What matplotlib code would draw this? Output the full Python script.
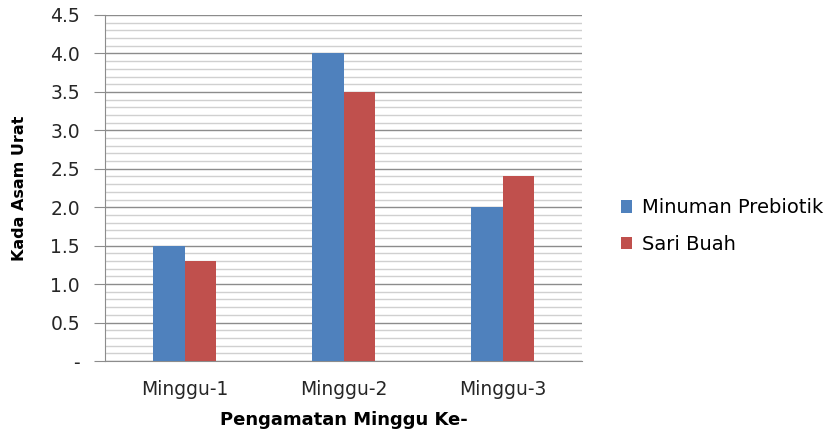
import matplotlib.pyplot as plt
import numpy as np
from matplotlib.ticker import MultipleLocator, FixedLocator

plt.rcParams['font.family'] = ['DejaVu Sans']

weeks = ["Minggu-1", "Minggu-2", "Minggu-3"]
prebiotik = [1.5, 4.0, 2.0]
sari_buah = [1.3, 3.5, 2.4]
yticks = [0, 0.5, 1.0, 1.5, 2.0, 2.5, 3.0, 3.5, 4.0, 4.5]
ylabels = ["-", "0.5", "1.0", "1.5", "2.0", "2.5", "3.0", "3.5", "4.0", "4.5"]

BLUE = "#4f81bd"
RED = "#c0504d"
TXT = "#262626"

fig = plt.figure(figsize=(8.38, 4.34), dpi=100)
ax = fig.add_axes([105 / 838, 1 - 361 / 434, 477 / 838, 346 / 434])

x = np.arange(len(weeks))
w = 0.2
ax.bar(x - w / 2, prebiotik, w, color=BLUE, label="Minuman Prebiotik", zorder=3)
ax.bar(x + w / 2, sari_buah, w, color=RED, label="Sari Buah", zorder=3)

ax.set_xlim(-0.5, 2.5)
ax.set_ylim(0, 4.5)
ax.yaxis.set_major_locator(FixedLocator(yticks))
ax.set_yticklabels(ylabels)
ax.yaxis.set_minor_locator(MultipleLocator(0.1))
ax.grid(axis="y", which="major", color="#8c8c8c", lw=1, zorder=0)
ax.grid(axis="y", which="minor", color="#d0d0d0", lw=1, zorder=0)
ax.set_xticks(x)
ax.set_xticklabels(weeks)
ax.tick_params(axis="x", length=0, labelsize=13.5, pad=14, labelcolor=TXT)
ax.tick_params(axis="y", which="major", length=8, color="#8c8c8c",
               labelsize=13.5, pad=10, labelcolor=TXT)
ax.tick_params(axis="y", which="minor", length=0)

for s in ("top", "right"):
    ax.spines[s].set_visible(False)
for s in ("left", "bottom"):
    ax.spines[s].set_color("#8c8c8c")

ax.set_ylabel("Kada Asam Urat", fontsize=11.5, fontweight="bold")
ax.yaxis.set_label_coords(-0.164, 0.5)
ax.set_xlabel("Pengamatan Minggu Ke-", fontsize=13, fontweight="bold", labelpad=8)

ax.legend(loc="center left", bbox_to_anchor=(1.065, 0.39), frameon=False,
          fontsize=14, handlelength=0.6, handleheight=0.6, handletextpad=0.5,
          labelspacing=0.9, borderaxespad=0)

fig.savefig("out.png", dpi=100)
